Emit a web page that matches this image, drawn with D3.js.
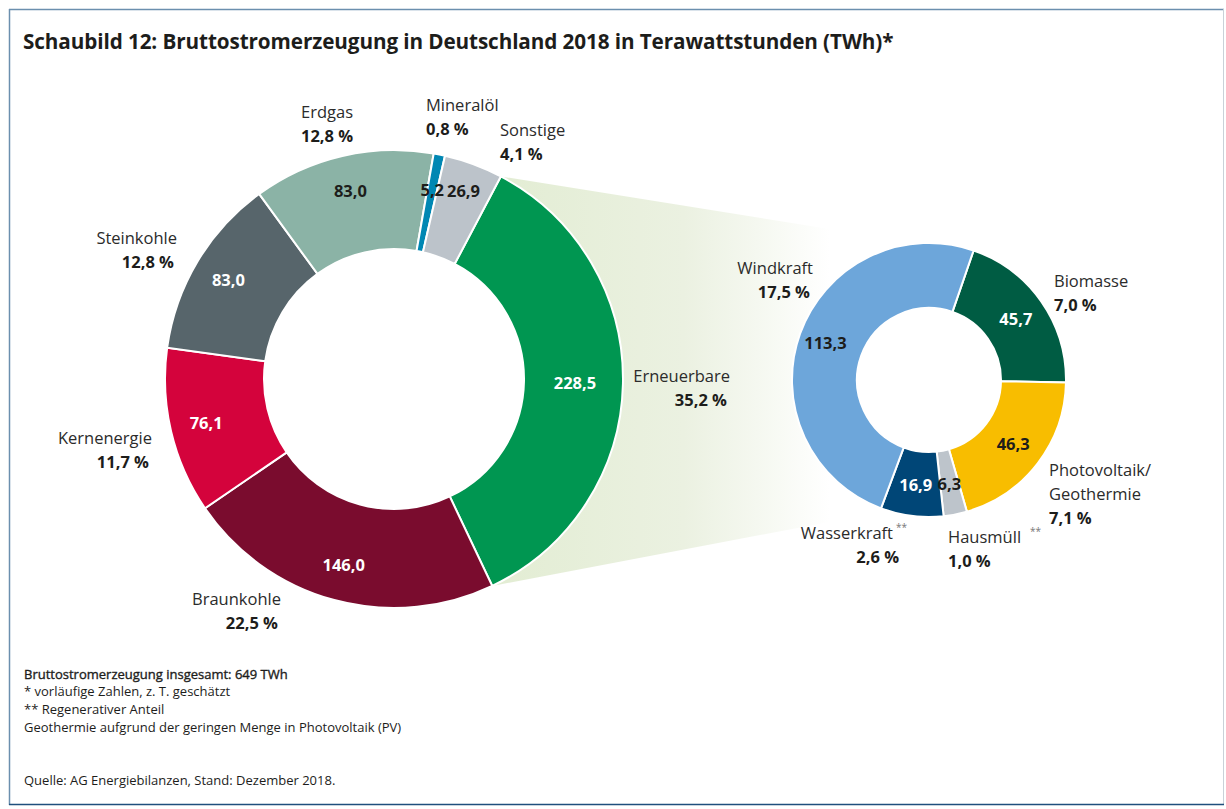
<!DOCTYPE html>
<html>
<head>
<meta charset="utf-8">
<script src="https://cdn.jsdelivr.net/npm/d3@7"></script>
<style>
  body { margin: 0; background: #fff; }
  svg { display: block; font-family: "Open Sans", sans-serif; }
</style>
</head>
<body>
<svg id="chart" width="1226" height="809"></svg>
<script>
// data -------------------------------------------------------------
const mainNames  = ['Erneuerbare', 'Braunkohle', 'Kernenergie', 'Steinkohle', 'Erdgas', 'Mineralöl', 'Sonstige'];
const mainValues = [228.5, 146.0, 76.1, 83.0, 83.0, 5.2, 26.9];
const mainShares = ['35,2 %', '22,5 %', '11,7 %', '12,8 %', '12,8 %', '0,8 %', '4,1 %'];

const renNames  = ['Biomasse', 'Photovoltaik/|Geothermie', 'Hausmüll', 'Wasserkraft', 'Windkraft'];
const renValues = [45.7, 46.3, 6.3, 16.9, 113.3];
const renShares = ['7,0 %', '7,1 %', '1,0 %', '2,6 %', '17,5 %'];
const renStars  = ['', '', '**', '**', ''];

const footnotes = [
  '* vorläufige Zahlen, z. T. geschätzt',
  '**  Regenerativer Anteil',
  'Geothermie aufgrund der geringen Menge in Photovoltaik (PV)'
];

// styles -----------------------------------------------------------
const color = d3.scaleOrdinal()
  .domain([...mainNames, ...renNames])
  .range(['#009651', '#7a0c2e', '#d4033c', '#57656b', '#8bb3a6', '#0087b3', '#bcc3ca',
          '#005c43', '#f8bd00', '#bdc4cb', '#004677', '#6da6da']);
const darkText = new Set(['Erdgas', 'Mineralöl', 'Sonstige', 'Photovoltaik/|Geothermie', 'Hausmüll', 'Windkraft']);

// outer label placement (name line baseline, share line below)
const labelPos = {
  'Erdgas':       { x: 301, y: 118, anchor: 'start' },
  'Mineralöl':    { x: 426, y: 111, anchor: 'start' },
  'Sonstige':     { x: 500, y: 136, anchor: 'start' },
  'Steinkohle':   { x: 177, y: 244, anchor: 'end' },
  'Kernenergie':  { x: 152, y: 444, anchor: 'end' },
  'Braunkohle':   { x: 281, y: 605, anchor: 'end' },
  'Erneuerbare':  { x: 730, y: 382, anchor: 'end' },
  'Windkraft':    { x: 813, y: 274, anchor: 'end' },
  'Biomasse':     { x: 1054, y: 287, anchor: 'start' },
  'Photovoltaik/|Geothermie': { x: 1049, y: 476, anchor: 'start' },
  'Wasserkraft':  { x: 893, y: 539, anchor: 'end' },
  'Hausmüll':     { x: 948, y: 543, anchor: 'start' }
};

const deLocale = d3.formatLocale({ decimal: ',', thousands: '.', grouping: [3], currency: ['', ' €'] });
const fmt = deLocale.format('.1f');
const rad = d => d * Math.PI / 180;

const svg = d3.select('#chart');

// frame
svg.append('line').attr('x1', 9).attr('y1', 9.5).attr('x2', 1224).attr('y2', 9.5).attr('stroke', '#6b8fae').attr('stroke-width', 1.5);
svg.append('line').attr('x1', 9.5).attr('y1', 9).attr('x2', 9.5).attr('y2', 805).attr('stroke', '#6b8fae').attr('stroke-width', 1.5);
svg.append('line').attr('x1', 1223.5).attr('y1', 9).attr('x2', 1223.5).attr('y2', 805).attr('stroke', '#c9d1d8').attr('stroke-width', 1);
svg.append('line').attr('x1', 9).attr('y1', 804.5).attr('x2', 1224).attr('y2', 804.5).attr('stroke', '#1f4f7d').attr('stroke-width', 1.5);

svg.append('text')
  .attr('x', 23).attr('y', 49)
  .attr('font-size', 20.7).attr('font-weight', 700).attr('fill', '#1d1d1b')
  .attr('letter-spacing', -0.1)
  .text('Schaubild 12: Bruttostromerzeugung in Deutschland 2018 in Terawattstunden (TWh)*');

// geometry
const main = { cx: 394, cy: 379, r0: 130, r1: 229, start: 27.8 };
const ren  = { cx: 929, cy: 380, r0: 72, r1: 137, start: 19 };

const mainPie = d3.pie().sort(null).value(d => d.value)
  .startAngle(rad(main.start)).endAngle(rad(main.start) + 2 * Math.PI);
const renPie = d3.pie().sort(null).value(d => d.value)
  .startAngle(rad(ren.start)).endAngle(rad(ren.start) + 2 * Math.PI);

const mainArcs = mainPie(mainNames.map((n, i) => ({ name: n, value: mainValues[i], share: mainShares[i] })));
const renArcs = renPie(renNames.map((n, i) => ({ name: n, value: renValues[i], share: renShares[i], star: renStars[i] })));

// connector fan from Erneuerbare to the breakdown donut
const defs = svg.append('defs');
const grad = defs.append('linearGradient').attr('id', 'fan')
  .attr('gradientUnits', 'userSpaceOnUse')
  .attr('x1', 505).attr('x2', 830).attr('y1', 0).attr('y2', 0);
grad.append('stop').attr('offset', 0).attr('stop-color', '#e3edd4');
grad.append('stop').attr('offset', 0.55).attr('stop-color', '#ebf1e1');
grad.append('stop').attr('offset', 1).attr('stop-color', '#ffffff');

const ern = mainArcs[0];
const p0 = [main.cx + main.r1 * Math.sin(ern.startAngle), main.cy - main.r1 * Math.cos(ern.startAngle)];
const p1 = [main.cx + main.r1 * Math.sin(ern.endAngle), main.cy - main.r1 * Math.cos(ern.endAngle)];
svg.append('path')
  .attr('d', `M${p0[0]},${p0[1]} L${ren.cx},${ren.cy - ren.r1 + 2} L${ren.cx},${ren.cy + ren.r1 - 14} L${p1[0]},${p1[1]} A${main.r1},${main.r1} 0 0 0 ${p0[0]},${p0[1]} Z`)
  .attr('fill', 'url(#fan)');

function drawDonut(arcs, g, labelR, labelROverride) {
  const arc = d3.arc().innerRadius(g.r0).outerRadius(g.r1);
  const grp = svg.append('g').attr('transform', `translate(${g.cx},${g.cy})`);
  grp.selectAll('path').data(arcs).join('path')
    .attr('d', arc)
    .attr('fill', d => color(d.data.name))
    .attr('stroke', '#fff').attr('stroke-width', 2);

  grp.selectAll('text.val').data(arcs).join('text')
    .attr('class', 'val')
    .attr('transform', d => {
      const r = labelROverride[d.data.name] || labelR;
      const a = (d.startAngle + d.endAngle) / 2;
      return `translate(${r * Math.sin(a)},${-r * Math.cos(a)})`;
    })
    .attr('text-anchor', 'middle').attr('dy', '0.36em')
    .attr('font-size', 16.5).attr('font-weight', 700)
    .attr('fill', d => darkText.has(d.data.name) ? '#1d1d1b' : '#fff')
    .text(d => fmt(d.data.value));
}

drawDonut(mainArcs, main, 193, { 'Erneuerbare': 181, 'Sonstige': 200 });
drawDonut(renArcs, ren, 106, { 'Windkraft': 110 });

// outer labels
function drawLabels(arcs) {
  arcs.forEach(d => {
    const p = labelPos[d.data.name];
    const lines = d.data.name.split('|');
    const t = svg.append('text').attr('text-anchor', p.anchor).attr('font-size', 16.5).attr('fill', '#2b2b2b');
    lines.forEach((l, i) => {
      t.append('tspan').attr('x', p.x).attr('y', p.y + i * 24).text(l);
    });
    if (d.data.star) {
      svg.append('text')
        .attr('x', p.anchor === 'end' ? p.x + 3 : p.x + 82)
        .attr('y', p.y - 8)
        .attr('font-size', 10).attr('fill', '#777')
        .text(d.data.star);
    }
    const sx = p.anchor === 'end' && d.data.star ? p.x + 9 : p.x;
    svg.append('text')
      .attr('x', p.anchor === 'end' ? sx - 3 : sx)
      .attr('y', p.y + lines.length * 24)
      .attr('text-anchor', p.anchor)
      .attr('font-size', 16.5).attr('font-weight', 700).attr('fill', '#1d1d1b')
      .text(d.data.share);
  });
}
drawLabels(mainArcs);
drawLabels(renArcs);

// footnotes
const foot = svg.append('g').attr('font-size', 13).attr('fill', '#1d1d1b');
foot.append('text').attr('x', 24).attr('y', 679)
  .attr('stroke', '#1d1d1b').attr('stroke-width', 0.35)
  .text(`Bruttostromerzeugung insgesamt: ${Math.round(d3.sum(mainValues))} TWh`);
footnotes.forEach((f, i) => {
  foot.append('text').attr('x', 24).attr('y', 696 + i * 18).text(f);
});
foot.append('text').attr('x', 24).attr('y', 785).text('Quelle: AG Energiebilanzen, Stand: Dezember 2018.');
</script>
</body>
</html>
